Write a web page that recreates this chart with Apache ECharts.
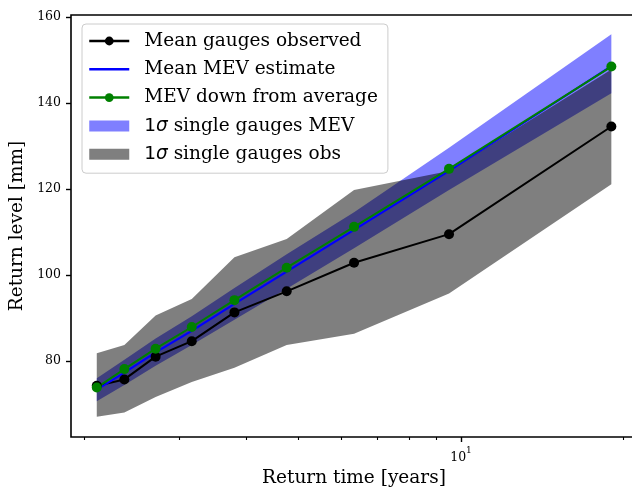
<!DOCTYPE html>
<html>
<head>
<meta charset="utf-8">
<script src="https://cdn.jsdelivr.net/npm/echarts@6/dist/echarts.min.js"></script>
<style>
  html, body { margin: 0; padding: 0; background: #fff; }
  #chart { width: 632px; height: 487px; }
</style>
</head>
<body>
<div id="chart"></div>
<script>
// Return periods (years) of the ranked annual maxima
const returnTimes = [2.111, 2.375, 2.714, 3.167, 3.8, 4.75, 6.333, 9.5, 19];

// Return levels (mm)
const meanObserved = [74.2, 75.7, 81.0, 84.6, 91.3, 96.2, 102.85, 109.5, 134.55];
const meanMev      = [73.3, 77.3, 82.0, 87.0, 93.3, 100.8, 110.5, 124.2, 148.6];
const mevFromAvg   = [73.8, 78.1, 82.85, 87.9, 94.15, 101.7, 111.2, 124.7, 148.5];

// 1-sigma spread across single gauges
const mevUpper = [76.0, 80.3, 85.2, 90.4, 97.0, 104.8, 114.6, 129.6, 156.0];
const mevLower = [70.6, 74.4, 78.9, 83.7, 89.6, 96.8, 106.2, 119.8, 142.3];
const obsUpper = [81.8, 83.7, 90.6, 94.4, 104.1, 108.4, 119.8, 124.2, 147.8];
const obsLower = [67.0, 68.0, 71.6, 75.1, 78.4, 83.7, 86.3, 95.7, 121.1];

// Axis ticks
const xMajorTicks = [10];
const xMinorTicks = [2, 3, 4, 5, 6, 7, 8, 9, 20];
const yTicks = [80, 100, 120, 140, 160];

const SERIF = 'DejaVu Serif';
const FS = 18.5;

const pairs = vals => returnTimes.map((t, i) => [t, vals[i]]);

function band(name, lower, upper, color) {
  return {
    name,
    type: 'custom',
    coordinateSystem: 'cartesian2d',
    silent: true,
    itemStyle: { color },
    data: [[returnTimes[0], lower[0]]],
    renderItem: (params, api) => {
      const top = returnTimes.map((t, i) => api.coord([t, upper[i]]));
      const bottom = returnTimes.map((t, i) => api.coord([t, lower[i]])).reverse();
      return {
        type: 'polygon',
        shape: { points: top.concat(bottom) },
        style: { fill: color }
      };
    }
  };
}

function lineSeries(name, vals, color, withMarkers) {
  return {
    name,
    type: 'line',
    data: pairs(vals),
    symbol: withMarkers ? 'circle' : 'none',
    symbolSize: 10,
    showSymbol: withMarkers,
    lineStyle: { color, width: 2 },
    itemStyle: { color },
    emphasis: { disabled: true },
    animation: false
  };
}

const xAxisBase = {
  type: 'log',
  logBase: 10,
  min: 1.891,
  max: 21.2,
  position: 'bottom',
  axisLine: { show: false },
  splitLine: { show: false }
};

const chart = echarts.init(document.getElementById('chart'), null, { renderer: 'canvas' });
chart.setOption({
  animation: false,
  backgroundColor: '#fff',
  grid: {
    left: 71, top: 15, width: 566, height: 422,
    outerBoundsMode: 'none',
    containLabel: false,
    show: true, borderColor: '#000', borderWidth: 1.6, backgroundColor: 'transparent'
  },
  legend: {
    orient: 'vertical',
    left: 82, top: 24,
    padding: [7, 10, 9, 6],
    itemWidth: 40, itemHeight: 11, itemGap: 8.3,
    backgroundColor: '#fff',
    borderColor: '#cccccc', borderWidth: 1, borderRadius: 4,
    selectedMode: false,
    data: [
      { name: 'Mean gauges observed', lineStyle: { width: 2.5 } },
      { name: 'Mean MEV estimate', lineStyle: { width: 2.5 }, itemStyle: { opacity: 0 } },
      { name: 'MEV down from average', lineStyle: { width: 2.5 } },
      { name: '1σ single gauges MEV', icon: 'rect', itemHeight: 13 },
      { name: '1σ single gauges obs', icon: 'rect', itemHeight: 13 }
    ],
    formatter: name => name.indexOf('1σ') === 0 ? '{d|1}{s|σ}' + name.slice(2) : name,
    textStyle: {
      fontFamily: SERIF, fontSize: FS, color: '#000', lineHeight: 20,
      padding: [0, 0, 0, 10],
      rich: {
        d: { fontFamily: 'DejaVu Sans', fontSize: FS, color: '#000', lineHeight: 20 },
        s: { fontFamily: 'DejaVu Sans', fontStyle: 'italic', fontSize: FS, color: '#000', lineHeight: 20 }
      }
    }
  },
  xAxis: [
    Object.assign({}, xAxisBase, {
      name: 'Return time [years]',
      nameLocation: 'middle',
      nameGap: 30,
      nameTextStyle: { fontFamily: SERIF, fontSize: FS, color: '#000' },
      axisTick: { show: true, length: 5, lineStyle: { color: '#000', width: 1.4 }, customValues: xMajorTicks },
      axisLabel: {
        show: true, margin: 9, customValues: xMajorTicks,
        formatter: () => '{b|10}{p|1}',
        rich: {
          b: { fontFamily: SERIF, fontSize: 12.5, color: '#000', lineHeight: 18, verticalAlign: 'bottom' },
          p: { fontFamily: SERIF, fontSize: 9, color: '#000', lineHeight: 10, verticalAlign: 'top' }
        }
      }
    }),
    Object.assign({}, xAxisBase, {
      axisTick: { show: true, length: 3, lineStyle: { color: '#000', width: 1.1 }, customValues: xMinorTicks },
      axisLabel: { show: false }
    })
  ],
  yAxis: {
    type: 'value',
    min: 62.3, max: 160.5,
    axisLine: { show: false },
    splitLine: { show: false },
    name: 'Return level [mm]',
    nameLocation: 'middle',
    nameGap: 43,
    nameTextStyle: { fontFamily: SERIF, fontSize: FS, color: '#000' },
    axisTick: { show: true, length: 5, lineStyle: { color: '#000', width: 1.4 }, customValues: yTicks },
    axisLabel: {
      show: true, margin: 10, customValues: yTicks,
      fontFamily: SERIF, fontSize: 12.5, color: '#000'
    }
  },
  series: [
    band('1σ single gauges MEV', mevLower, mevUpper, 'rgba(0,0,255,0.5)'),
    band('1σ single gauges obs', obsLower, obsUpper, 'rgba(0,0,0,0.5)'),
    lineSeries('Mean gauges observed', meanObserved, '#000000', true),
    lineSeries('Mean MEV estimate', meanMev, '#0000ff', false),
    lineSeries('MEV down from average', mevFromAvg, '#008000', true)
  ]
});
</script>
</body>
</html>
